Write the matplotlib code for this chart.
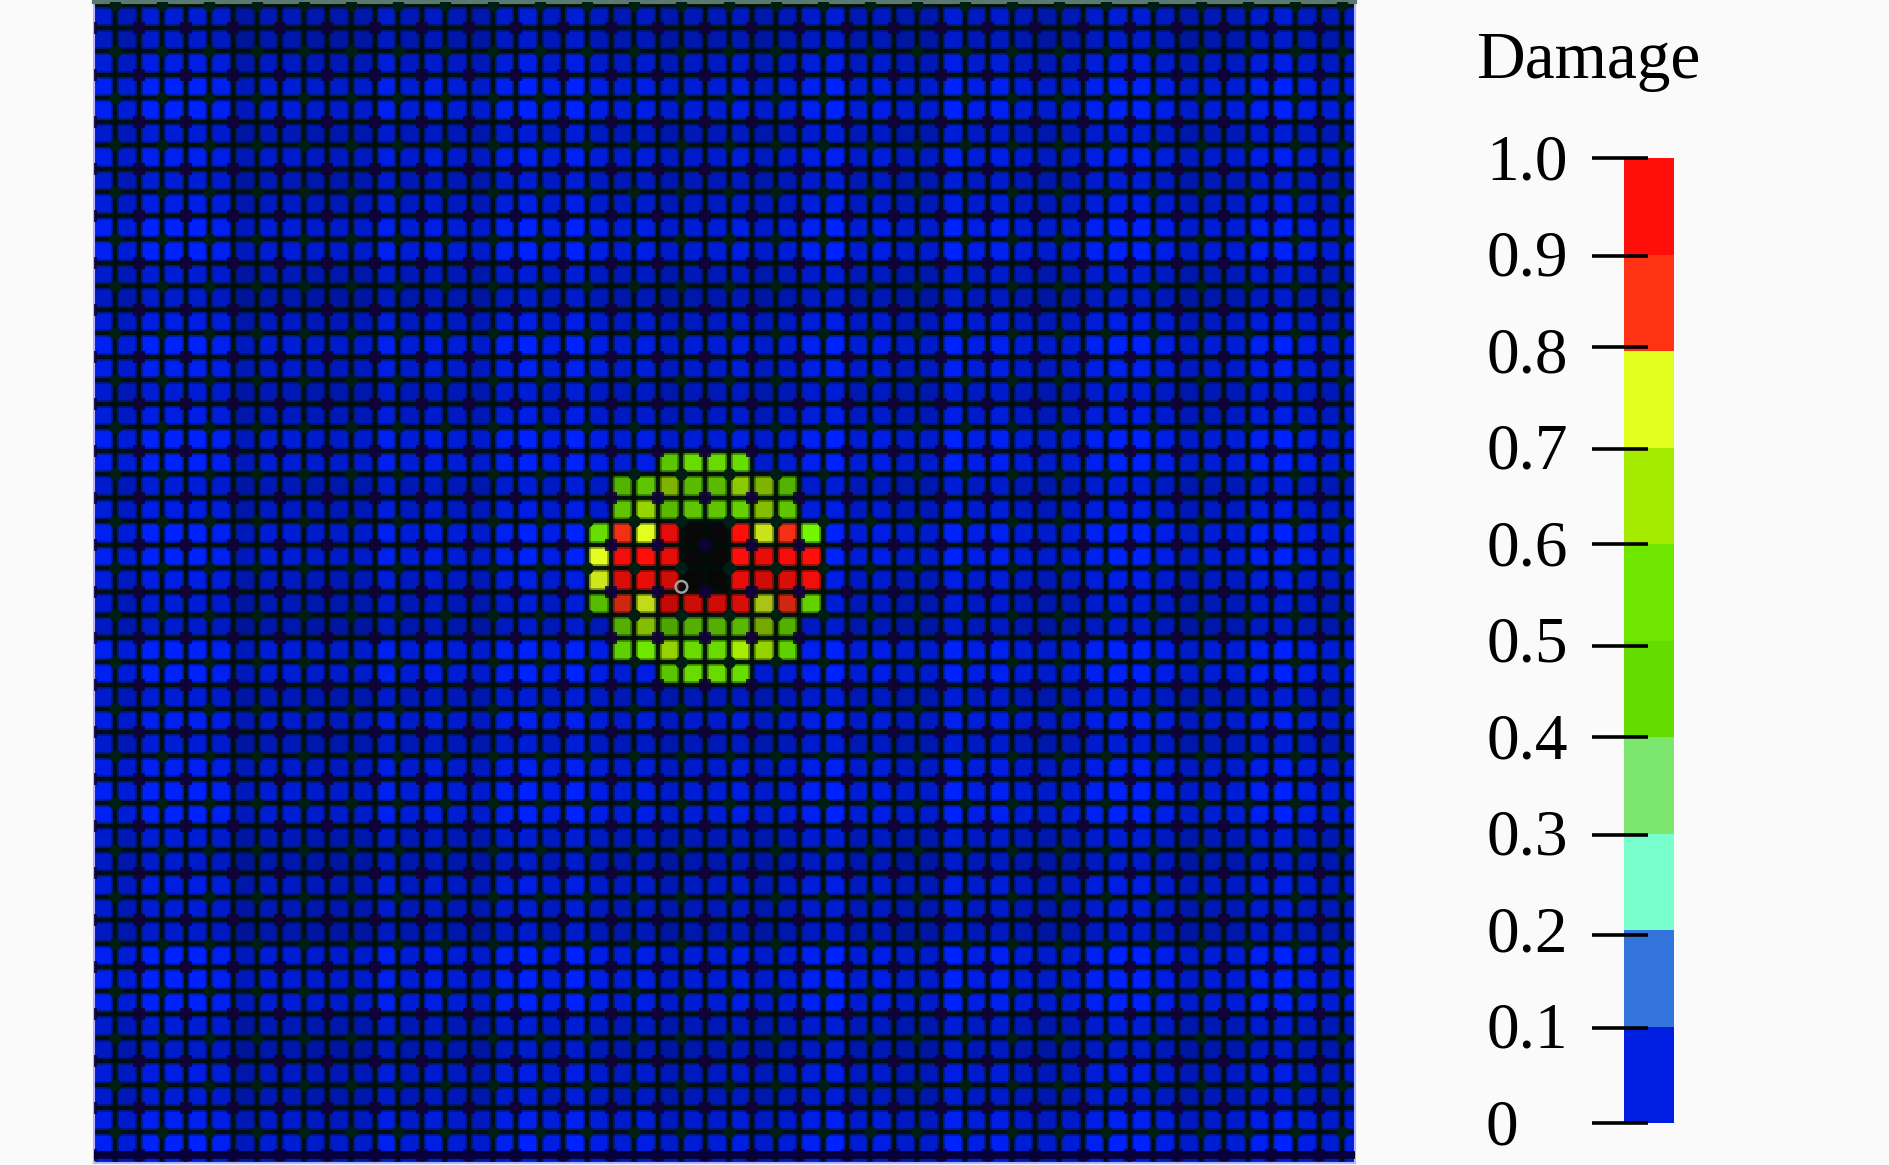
import matplotlib
matplotlib.use('Agg')
import matplotlib.pyplot as plt
from matplotlib.colors import ListedColormap, BoundaryNorm
import numpy as np

plt.rcParams['font.family'] = ['Liberation Serif', 'DejaVu Serif']

# Colour bar
levels = [0, 0.1, 0.2, 0.3, 0.4, 0.5, 0.6, 0.7, 0.8, 0.9, 1.0]
band_colors = ['#001ee1', '#3273dc', '#78ffcd', '#7de66e', '#64dc00',
               '#6ee600', '#a5eb00', '#e1ff1e', '#ff3214', '#ff0f0a']
tick_labels = ['0', '0.1', '0.2', '0.3', '0.4', '0.5', '0.6', '0.7', '0.8', '0.9', '1.0']
tick_marks = [0, 0.098, 0.195, 0.298, 0.400, 0.494, 0.600, 0.698, 0.804, 0.898, 1.0]

# Damage, everything else on the plate is background
background = 0.05
b = background
n = np.nan
first_row = 18
first_col = 20
damage_rows = [
    [b, b, b, b, .45, .5, .5, .45, b, b, b, b],
    [b, b, .45, .55, .65, .55, .55, .65, .6, .45, b, b],
    [b, b, .55, .65, .55, .5, .55, .55, .65, .55, b, b],
    [b, .45, .85, .75, .95, n, n, .95, .75, .85, .5, b],
    [b, .75, .95, .9, .95, n, n, .95, .9, .95, .9, b],
    [b, .75, .95, .9, .95, n, n, .95, .9, .95, .9, b],
    [b, .45, .85, .75, .95, .95, .95, .95, .75, .85, .5, b],
    [b, b, .55, .65, .55, .5, .55, .55, .65, .55, b, b],
    [b, b, .45, .55, .65, .55, .55, .65, .6, .45, b, b],
    [b, b, b, b, .45, .55, .55, .45, b, b, b, b],
]

# Brightness of each column / row of the mesh
col_shade = [.95, .85, 1, 1, 1, .95, .75, .85, .85, .8, .8, .8, .95, .85, .9,
             .85, .8, .95, 1, .9, 1, .9, .85, .9, .8, .85, .85, .9, .8, .85,
             .95, 1, .85, .9, .8, .8, 1, .9, .95, .85, .8, .85, .95, 1, 1,
             .9, .8, .85, .85, .95, 1, .9, .85, .9]
row_shade = [.85, .85, .8, .9, 1, 1, .85, .95, .85, .9, 1, 1, .85, .8, .9, 1,
             .95, .85, .9, 1, 1, .85, .9, 1, 1, .9, .85, .8, 1, 1, .85, .95,
             .85, .95, 1, 1, .85, .8, .9, .85, .8, 1, 1, 1, .85, .8, .9, .85,
             .95, 1, .9]
row_start = -2

# Bright ring left over at the hole edge
ring_x = [25.0]
ring_y = [23.8]

W, H = 1890, 1165
PAGE = '#fafafa'
LINE = '#000f0a'


def px_axes(fig, x0, y0, x1, y1):
    return fig.add_axes([x0 / W, 1 - y1 / H, (x1 - x0) / W, (y1 - y0) / H])


def plot_damage():
    fig = plt.figure(figsize=(W / 100, H / 100), dpi=100, facecolor=PAGE)

    cmap = ListedColormap(band_colors)
    cmap.set_bad('#080808')
    norm = BoundaryNorm(levels, cmap.N)

    # Plate
    ax = px_axes(fig, 94, 2, 1355, 1163)
    values = np.full((len(row_shade), len(col_shade)), background)
    patch = np.array(damage_rows)
    r0 = first_row - row_start
    values[r0:r0 + patch.shape[0], first_col:first_col + patch.shape[1]] = patch

    rgb = cmap(norm(np.ma.masked_invalid(values)))[:, :, :3]
    shade = np.outer(row_shade, col_shade)
    rgb = np.clip(rgb * shade[:, :, None] * 1.12, 0, 1)

    x_edges = np.arange(len(col_shade) + 1)
    y_edges = np.arange(len(row_shade) + 1) + row_start
    ax.pcolormesh(x_edges, y_edges, rgb, shading='flat')

    # Mesh lines, a soft wide pass and then a narrow one
    ax.vlines(x_edges, y_edges[0], y_edges[-1], color=LINE, lw=5.5, alpha=0.4)
    ax.hlines(y_edges, x_edges[0], x_edges[-1], color=LINE, lw=5.5, alpha=0.4)
    ax.vlines(x_edges, y_edges[0], y_edges[-1], color=LINE, lw=2.8, alpha=0.95)
    ax.hlines(y_edges, x_edges[0], x_edges[-1], color=LINE, lw=2.8, alpha=0.95)

    # Darker nodes on every second line
    nodes_x, nodes_y = np.meshgrid(x_edges[::2], y_edges[::2])
    ax.scatter(nodes_x.ravel(), nodes_y.ravel(), s=70, marker='s',
               color='#12003c', linewidths=0, alpha=0.85, zorder=3)
    nodes_x, nodes_y = np.meshgrid(x_edges[1::2], y_edges[1::2])
    ax.scatter(nodes_x.ravel(), nodes_y.ravel(), s=80, marker='o',
               color='#001e14', linewidths=0, zorder=3)

    ax.hlines([48], x_edges[0], x_edges[-1], color='#05003c', lw=5.5, zorder=4)
    ax.scatter(ring_x, ring_y, s=70, facecolors='none', edgecolors='#a0a0a0',
               linewidths=1.8, zorder=5)

    ax.set_xlim(0.11, 53.54)
    ax.set_ylim(48.34, -1.107)
    ax.set_xticks([])
    ax.set_yticks([])
    for side in ['left', 'right', 'bottom']:
        ax.spines[side].set_color('#b4b4ff')
        ax.spines[side].set_linewidth(1.5)
    ax.spines['top'].set_color('#5a7a70')
    ax.spines['top'].set_linewidth(3)

    # Colour bar
    cax = px_axes(fig, 1624, 158, 1674, 1123)
    cax.pcolormesh([0, 1], levels, np.array(levels[:-1])[:, None] + 0.05,
                   cmap=cmap, norm=norm, shading='flat')
    cax.set_xlim(0, 1)
    cax.set_ylim(0, 1)
    cax.set_xticks([])
    cax.set_yticks([])
    for spine in cax.spines.values():
        spine.set_visible(False)
    cax.hlines(tick_marks, -0.64, 0.48, color='black', lw=2.6,
               transform=cax.get_yaxis_transform(), clip_on=False, zorder=5)
    for level, label in zip(levels, tick_labels):
        # the lone 0 sits further left than the other labels
        x = -2.12 if label == '0' else -1.12
        cax.annotate(label, (x, level), xytext=(0, -4), textcoords='offset points',
                     xycoords=cax.get_yaxis_transform(), ha='right', va='center',
                     fontsize=47, color='black')

    fig.text(1476 / W, 1 - 78 / H, 'Damage', fontsize=48.5, color='black',
             ha='left', va='baseline')

    fig.savefig('out.png', dpi=100, facecolor=PAGE)


if __name__ == "__main__":
    plot_damage()
